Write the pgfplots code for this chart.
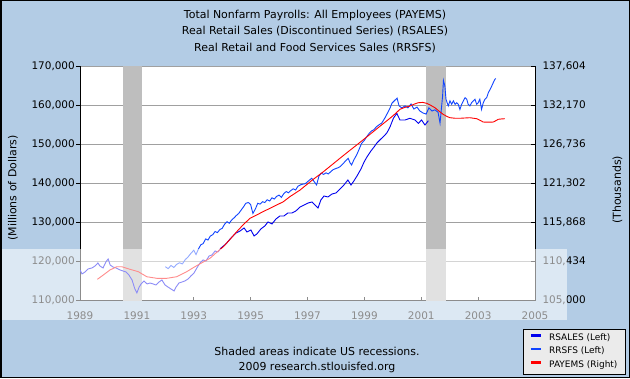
\documentclass[border=0pt]{standalone}
\usepackage{pgfplots}
\pgfplotsset{compat=1.18}
\usepackage{pgfplotstable}
\usepackage{fontspec}
\setmainfont{DejaVu Sans}
\definecolor{bgblue}{RGB}{179,204,229}
\definecolor{recgray}{RGB}{190,190,190}
\definecolor{gridgray}{RGB}{160,160,160}
\definecolor{rsalescol}{RGB}{0,0,238}
\definecolor{rrsfscol}{RGB}{17,68,255}
\definecolor{payemscol}{RGB}{255,0,0}
\definecolor{leggray}{RGB}{235,235,235}

\pgfplotstableread{
year value
1989.00 117860
1989.07 116840
1989.18 117350
1989.28 118110
1989.42 118370
1989.53 118880
1989.63 119650
1989.70 118880
1989.81 118370
1989.91 119900
1989.99 120670
1990.06 119140
1990.16 118620
1990.27 118370
1990.41 117860
1990.51 117600
1990.62 117350
1990.72 116580
1990.83 115300
1990.93 113000
1991.00 111980
1991.08 113510
1991.15 114280
1991.25 115050
1991.36 114280
1991.46 114530
1991.57 114280
1991.67 114020
1991.78 114790
1991.88 115300
1991.99 114020
1992.09 113510
1992.20 113000
1992.31 112490
1992.38 113510
1992.48 114530
1992.59 114790
1992.69 115050
1992.80 115560
1992.90 116330
1993.01 117090
1993.11 118370
1993.22 119650
1993.33 120410
1993.43 120160
1993.54 121440
1993.64 121690
1993.75 122710
1993.85 122460
1993.96 123480
1994.13 124500
1994.31 126040
1994.49 127320
1994.63 127830
1994.77 128590
1994.87 127570
1995.01 128080
1995.12 126550
1995.22 127060
1995.36 128340
1995.50 129100
1995.61 130130
1995.75 129620
1995.89 130890
1996.03 131660
1996.17 131660
1996.31 132430
1996.45 132430
1996.59 132940
1996.74 133960
1996.88 134470
1997.02 134980
1997.16 135240
1997.26 134470
1997.37 133710
1997.47 135750
1997.58 136770
1997.72 136520
1997.86 137280
1998.00 137540
1998.14 138560
1998.28 139580
1998.42 140860
1998.53 139580
1998.63 140610
1998.74 141880
1998.88 143670
1998.99 145460
1999.09 146740
1999.23 148270
1999.34 149300
1999.44 150320
1999.58 151340
1999.69 152110
1999.79 152880
1999.90 154410
2000.02 156630
2000.14 157910
2000.25 156200
2000.43 156200
2000.60 156630
2000.78 156200
2000.90 155350
2001.01 156200
2001.13 154920
2001.25 156020
}\rsales

\pgfplotstableread{
year value
1992.00 118700
1992.10 118200
1992.20 119000
1992.30 118500
1992.40 119300
1992.50 119700
1992.60 119400
1992.70 120500
1992.80 121200
1992.90 122100
1993.00 122900
1993.08 121800
1993.17 123300
1993.25 124300
1993.33 124600
1993.42 125800
1993.50 125500
1993.58 126500
1993.67 126900
1993.75 127700
1993.83 127400
1993.92 128200
1994.00 128500
1994.08 129500
1994.17 130200
1994.25 129800
1994.33 130600
1994.42 131200
1994.50 131800
1994.58 132300
1994.67 133200
1994.75 134000
1994.83 134900
1994.92 135100
1995.00 134600
1995.08 132300
1995.17 133500
1995.25 134900
1995.33 134700
1995.42 135300
1995.50 135100
1995.58 135800
1995.67 135500
1995.75 136300
1995.83 136000
1995.92 136700
1996.00 137000
1996.08 136400
1996.17 137400
1996.25 137900
1996.33 137600
1996.42 138200
1996.50 138600
1996.58 138300
1996.67 139300
1996.75 139600
1996.83 139800
1996.92 139900
1997.00 140400
1997.08 140900
1997.15 141300
1997.23 140500
1997.32 139600
1997.40 141800
1997.48 142600
1997.57 142300
1997.65 142700
1997.73 142400
1997.82 143000
1997.90 143500
1998.00 143800
1998.08 144000
1998.15 144300
1998.25 145000
1998.33 145700
1998.43 146400
1998.50 145200
1998.55 144700
1998.63 146000
1998.73 147300
1998.82 148800
1998.90 150200
1999.00 151000
1999.08 151900
1999.17 152800
1999.25 153400
1999.33 153700
1999.43 154500
1999.52 155000
1999.61 155400
1999.72 156700
1999.83 158200
1999.90 159200
1999.97 160500
2000.08 161300
2000.15 161800
2000.22 159800
2000.32 159300
2000.43 159800
2000.53 159300
2000.64 160300
2000.74 159000
2000.85 159500
2000.95 158500
2001.06 158000
2001.17 157700
2001.27 159300
2001.38 158500
2001.48 158800
2001.59 158200
2001.66 155400
2001.75 162300
2001.78 166300
2001.83 164900
2001.87 161500
2001.91 160600
2001.95 159800
2002.01 161100
2002.07 160200
2002.13 161100
2002.19 160200
2002.25 160600
2002.30 160200
2002.36 158900
2002.42 160200
2002.48 161100
2002.54 161900
2002.60 161500
2002.65 160200
2002.71 159800
2002.77 160600
2002.83 161100
2002.89 161500
2002.95 160200
2003.00 160600
2003.06 161500
2003.12 158900
2003.18 160600
2003.24 161500
2003.30 161900
2003.36 163200
2003.42 164000
2003.48 164900
2003.53 165700
2003.59 166600
2003.62 166800
}\rrsfs

\pgfplotstableread{
year value
1989.61 107970
1989.82 108570
1990.05 109260
1990.29 109720
1990.47 109720
1990.76 109360
1991.05 109030
1991.35 108330
1991.70 108110
1992.05 108110
1992.40 108330
1992.75 109030
1993.04 109720
1993.30 110300
1993.57 110890
1993.80 111700
1994.04 112500
1994.27 113500
1994.51 114580
1994.75 115600
1994.98 116450
1995.21 116900
1995.45 117400
1995.68 117830
1995.92 118300
1996.15 118750
1996.38 119450
1996.74 120380
1997.15 121700
1997.56 122920
1997.85 123850
1998.14 124780
1998.43 125700
1998.73 126630
1999.02 127550
1999.31 128470
1999.60 129400
1999.90 130340
2000.08 130950
2000.25 131590
2000.42 131850
2000.60 132040
2000.75 132300
2000.89 132500
2001.05 132550
2001.19 132420
2001.33 132150
2001.48 131810
2001.62 131350
2001.77 130890
2001.90 130600
2002.01 130420
2002.18 130350
2002.36 130340
2002.53 130380
2002.71 130420
2002.83 130350
2002.95 130280
2003.07 130050
2003.18 129820
2003.35 129800
2003.53 129820
2003.62 130000
2003.71 130200
2003.82 130250
2003.94 130280
}\payems

\begin{document}
\begin{tikzpicture}[x=1bp,y=1bp]
\fill[bgblue] (0,0) rectangle (630,378);
\begin{axis}[
  at={(80bp,77.3bp)}, anchor=south west,
  scale only axis, width=455bp, height=234.7bp,
  xmin=1989, xmax=2005, ymin=110000, ymax=170000,
  axis background/.style={fill=white},
  axis x line*=bottom, axis y line*=left,
  axis line style={-, black, line width=0.8bp},
  xtick={1989,1991,1993,1995,1997,1999,2001,2003,2005},
  ytick={110000,120000,130000,140000,150000,160000,170000},
  xtick align=inside, ytick align=outside,
  major tick length=4bp,
  tick style={black, line width=0.8bp},
  ymajorgrids, grid style={gridgray, line width=0.8bp},
  scaled ticks=false,
  /pgf/number format/assume math mode=true,
  tick label style={font=\fontsize{10.5}{12}\selectfont},
  xticklabel style={/pgf/number format/1000 sep={}, yshift=-7.5bp},
  yticklabel style={/pgf/number format/1000 sep={,}, /pgf/number format/fixed, inner sep=1bp},
  ylabel={(Millions of Dollars)},
  every axis y label/.style={at={(axis description cs:-0.1473,0.48)}, rotate=90, anchor=center, font=\fontsize{11}{13}\selectfont},
]
\addplot[fill=recgray, draw=none, forget plot] coordinates {(1990.5,110000) (1990.5,170000) (1991.17,170000) (1991.17,110000)} -- cycle;
\addplot[fill=recgray, draw=none, forget plot] coordinates {(2001.17,110000) (2001.17,170000) (2001.86,170000) (2001.86,110000)} -- cycle;
\addplot[rsalescol, line width=0.9bp, forget plot] table[x=year, y=value] {\rsales};
\addplot[rrsfscol, line width=0.9bp, forget plot] table[x=year, y=value] {\rrsfs};
\end{axis}
\begin{axis}[
  at={(80bp,77.3bp)}, anchor=south west,
  scale only axis, width=455bp, height=234.7bp,
  xmin=1989, xmax=2005, ymin=105000, ymax=137604,
  axis x line=none, axis y line*=right,
  axis line style={-, black, line width=0.8bp},
  scaled ticks=false,
  ytick={105000,110434,115868,121302,126736,132170,137604},
  yticklabels={{105,000},{110,434},{115,868},{121,302},{126,736},{132,170},{137,604}},
  ytick align=inside, major tick length=4bp,
  tick style={black, line width=0.8bp},
  tick label style={font=\fontsize{10.5}{12}\selectfont},
  yticklabel style={xshift=4bp},
  ylabel={(Thousands)},
  every axis y label/.style={at={(axis description cs:1.1813,0.472)}, rotate=90, anchor=center, font=\fontsize{11}{13}\selectfont},
  legend style={at={(1.2,-0.3136)}, anchor=south east, draw=black, fill=leggray, line width=0.8bp,
    font=\fontsize{9}{10}\selectfont, row sep=0bp, column sep=5bp, inner xsep=6bp, inner ysep=2.5bp,
    nodes={inner sep=2.15bp, text height=7bp, text depth=2bp}},
  legend cell align=left,
  legend image code/.code={\draw[#1, line width=2.5bp] (0bp,2.5bp) -- (10bp,2.5bp);},
]
\addlegendimage{rsalescol}
\addlegendentry{RSALES (Left)}
\addlegendimage{rrsfscol}
\addlegendentry{RRSFS (Left)}
\addplot[payemscol, line width=0.9bp] table[x=year, y=value] {\payems};
\addlegendentry{PAYEMS (Right)}
\end{axis}
\fill[white, opacity=0.55] (0,58) rectangle (567,129);
\node[anchor=base, font=\fontsize{11}{13}\selectfont] at (315,360) {Total Nonfarm Payrolls: All Employees (PAYEMS)};
\node[anchor=base, font=\fontsize{11}{13}\selectfont] at (315,343.3) {Real Retail Sales (Discontinued Series) (RSALES)};
\node[anchor=base, font=\fontsize{11}{13}\selectfont] at (315,326.6) {Real Retail and Food Services Sales (RRSFS)};
\node[anchor=base, font=\fontsize{11}{13}\selectfont] at (317,22.5) {Shaded areas indicate US recessions.};
\node[anchor=base, font=\fontsize{11}{13}\selectfont] at (317,8) {2009 research.stlouisfed.org};
\draw[black, line width=1.5bp] (0.75,0.75) rectangle (629.25,377.25);
\pgfresetboundingbox
\useasboundingbox (0,0) rectangle (630,378);
\end{tikzpicture}
\end{document}
